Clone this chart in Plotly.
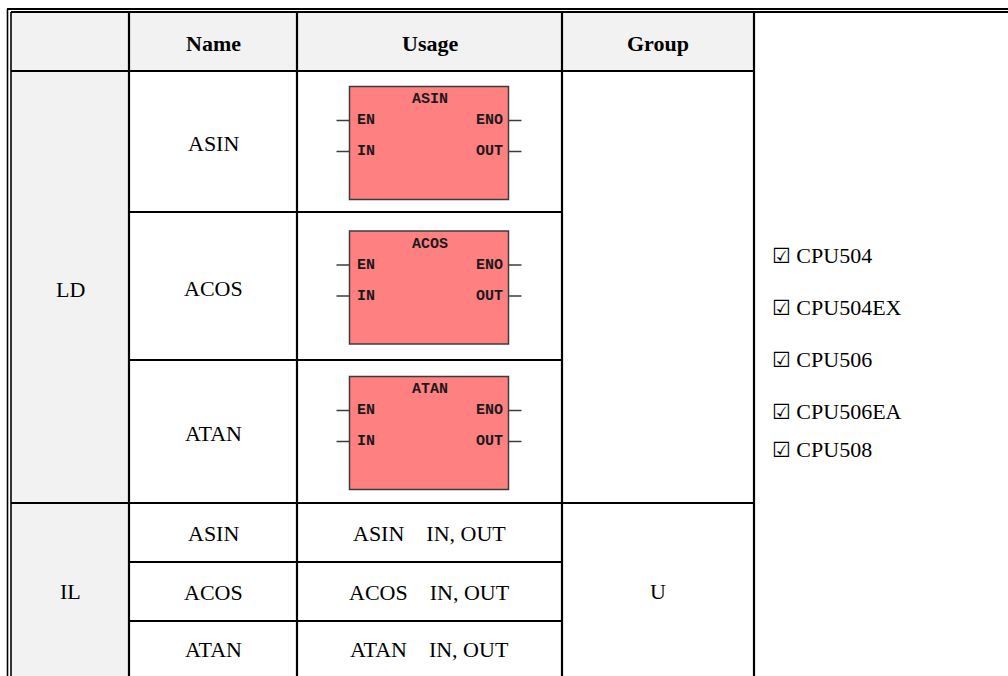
import plotly.graph_objects as go

# ---------------- data ----------------
headers = ["", "Name", "Usage", "Group"]
sections = ["LD", "IL"]
ld_names = ["ASIN", "ACOS", "ATAN"]
il_names = ["ASIN", "ACOS", "ATAN"]
il_ops = ["IN, OUT", "IN, OUT", "IN, OUT"]
ld_group = ""
il_group = "U"
left_pins = ["EN", "IN"]
right_pins = ["ENO", "OUT"]
cpus = ["CPU504", "CPU504EX", "CPU506", "CPU506EA", "CPU508"]

# ---------------- layout constants ----------------
W, H = 1008, 676
col_x = [12, 129, 297, 562, 754]
head_y = [12, 71]
ld_y = [71, 212, 360, 503]
il_y = [503, 562, 621, 676]
cpu_y = [255, 307, 359, 411, 449]
GRAY = "#f2f2f2"
LINE = "#000000"
SERIF = "Liberation Serif, Times New Roman, serif"
MONO = "Liberation Mono, Courier New, monospace"
FS = 22

fig = go.Figure()
shapes = []
ann = []


def line(x0, y0, x1, y1, w=2.2, c=LINE):
    shapes.append(dict(type="line", x0=x0, y0=y0, x1=x1, y1=y1, xref="x", yref="y",
                       line=dict(color=c, width=w), layer="above"))


def rect(x0, y0, x1, y1, fill, lc=None, lw=0):
    shapes.append(dict(type="rect", x0=x0, y0=y0, x1=x1, y1=y1, xref="x", yref="y",
                       fillcolor=fill, line=dict(color=lc or fill, width=lw), layer="below"))


def text(x, y, s, size=FS, bold=False, anchor="center", family=SERIF, color="#000"):
    if bold:
        s = "<b>" + s + "</b>"
    ann.append(dict(x=x, y=y, xref="x", yref="y", text=s, showarrow=False,
                    xanchor=anchor, yanchor="middle",
                    font=dict(family=family, size=size, color=color)))


# gray fills
rect(col_x[0], head_y[0], col_x[4], head_y[1], GRAY)
rect(col_x[0], head_y[1], col_x[1], H, GRAY)

# outer double border
line(7, 9, W, 9, 1.8)
line(11, 12, W, 12, 1.8)
line(7.5, 9, 7.5, H, 1.6)
line(11, 12, 11, H, 1.6)

# header bottom
line(11, head_y[1], col_x[4], head_y[1])
# vertical lines
for cx in col_x[1:]:
    line(cx, head_y[0], cx, H)
# LD row lines
for yy in ld_y[1:3]:
    line(col_x[1], yy, col_x[3], yy)
# section separator
line(11, ld_y[3], col_x[4], ld_y[3])
# IL row lines
for yy in il_y[1:3]:
    line(col_x[1], yy, col_x[3], yy)

# header texts
for i, h in enumerate(headers):
    if h:
        text((col_x[i] + col_x[i + 1]) / 2, (head_y[0] + head_y[1]) / 2 + 2, h, bold=True)

# section labels
text((col_x[0] + col_x[1]) / 2, (ld_y[0] + ld_y[3]) / 2 + 2, sections[0])
text((col_x[0] + col_x[1]) / 2, (il_y[0] + il_y[3]) / 2 + 2, sections[1])

# LD rows: names + function blocks
ucx = (col_x[2] + col_x[3]) / 2
for i, nm in enumerate(ld_names):
    cy = (ld_y[i] + ld_y[i + 1]) / 2 + 1
    text((col_x[1] + col_x[2]) / 2, cy + 1, nm)
    bx0, bx1 = ucx - 80, ucx + 79
    by0, by1 = cy - 56, cy + 57
    rect(bx0, by0, bx1, by1, "#ff8080", "#3c3c3c", 1.5)
    text(ucx, cy - 43, nm, size=15, bold=True, family=MONO, color="#1a1a1a")
    for k, (lp, rp) in enumerate(zip(left_pins, right_pins)):
        py = cy - 22 + k * 31
        line(bx0 - 13, py, bx0, py, 1.5, "#3c3c3c")
        line(bx1, py, bx1 + 13, py, 1.5, "#3c3c3c")
        text(bx0 + 5, py, lp, size=15, bold=True, family=MONO, anchor="left", color="#1a1a1a")
        text(bx1 - 4, py, rp, size=15, bold=True, family=MONO, anchor="right", color="#1a1a1a")

# IL rows
sp = "\u00a0" * 4
for i, (nm, op) in enumerate(zip(il_names, il_ops)):
    cy = (il_y[i] + il_y[i + 1]) / 2 + 1
    text((col_x[1] + col_x[2]) / 2, cy, nm)
    text(ucx, cy, nm + sp + op)
text((col_x[3] + col_x[4]) / 2, (il_y[0] + il_y[3]) / 2 + 2, il_group)

# CPU list
box = "<span style='font-family:DejaVu Sans;font-size:21px;font-weight:bold'>\u2611</span>"
for c, yy in zip(cpus, cpu_y):
    text(770, yy, box + " " + c, anchor="left")

fig.update_layout(
    width=W, height=H, margin=dict(l=0, r=0, t=0, b=0),
    paper_bgcolor="white", plot_bgcolor="white",
    xaxis=dict(range=[0, W], visible=False, fixedrange=True),
    yaxis=dict(range=[H, 0], visible=False, fixedrange=True),
    shapes=shapes, annotations=ann, showlegend=False,
)
fig.write_html("out.html", config={"displayModeBar": False, "staticPlot": True},
               post_script="document.body.style.margin='0';document.body.style.overflow='hidden';")
